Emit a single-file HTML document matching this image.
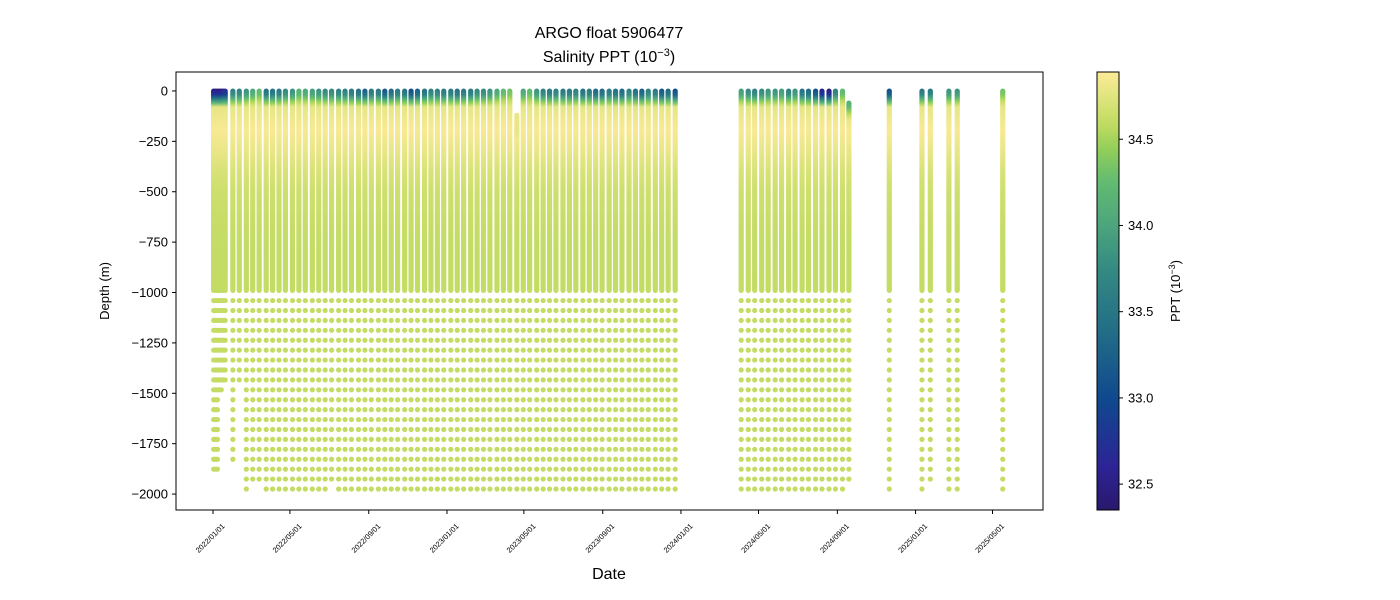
<!DOCTYPE html>
<html><head><meta charset="utf-8"><style>
body{margin:0;background:#fff}
svg{display:block;font-family:"Liberation Sans","DejaVu Sans",sans-serif}
</style></head><body>
<svg id="chart" width="1400" height="600" viewBox="0 0 1400 600" xmlns="http://www.w3.org/2000/svg">
<defs id="defs"></defs>
<rect x="0" y="0" width="1400" height="600" fill="#fff"/>
<text x="609" y="38" font-size="16" text-anchor="middle">ARGO float 5906477</text>
<text x="609" y="62" font-size="16" text-anchor="middle">Salinity PPT (10<tspan dy="-6" font-size="11">−3</tspan><tspan dy="6">)</tspan></text>
<g id="marks"></g>
<rect x="176" y="72" width="867" height="438" fill="none" stroke="#000" stroke-width="1"/>
<g id="yaxis"></g>
<g id="xaxis"></g>
<text transform="translate(109,291) rotate(-90)" font-size="13" text-anchor="middle">Depth (m)</text>
<text x="609" y="579" font-size="16" text-anchor="middle">Date</text>
<g id="cbar"></g>
<text transform="translate(1180,291) rotate(-90)" font-size="13" text-anchor="middle">PPT (10<tspan dy="-5" font-size="9">−3</tspan><tspan dy="5">)</tspan></text>
</svg>
<script>
// ---- data ----
const profileDays = [1,4,7,10,13,16,19,
31,41,52,62,72,83,93,103,113,124,134,144,155,165,175,185,196,206,216,227,237,247,258,268,278,288,299,309,319,330,340,350,360,371,381,391,402,412,422,432,443,453,463,474,484,494,505,515,525,535,546,556,566,577,587,597,607,618,628,638,649,659,669,679,690,700,710,721,
824,835,845,856,866,877,887,898,908,919,929,940,950,961,971,982,992,
1055,1106,1119,1148,1161,1232];
const surfaceSal = [32.4,32.4,32.4,32.4,32.4,32.5,32.6,
33.6,33.6,33.8,34.0,34.2,33.4,33.4,33.5,33.7,33.8,34.1,34.0,33.9,33.8,33.7,33.7,33.6,33.6,33.5,33.4,33.2,33.5,33.5,33.1,33.3,33.5,33.4,33.0,33.2,33.4,33.6,33.6,33.5,33.5,33.4,33.5,33.5,33.7,33.7,33.8,34.0,34.2,34.3,34.8,34.0,34.2,33.8,33.6,33.5,33.6,33.5,33.5,33.6,33.4,33.5,33.3,33.3,33.5,33.4,33.3,33.6,33.4,33.2,33.6,33.5,33.1,33.3,33.0,
33.9,33.7,33.6,33.7,33.8,33.8,33.9,33.6,33.8,33.4,33.3,33.0,32.5,32.4,33.6,34.2,34.1,
33.0,33.5,33.5,33.8,33.8,34.3];
const shallowTopDays = [474,992];
const shallowTopDepths = [120,60];
const maxDepth = [1880,1880,1880,1530,1530,1480,1480,
1830,1480,1975,1925,1925,1975,1975,1975,1975,1975,1975,1975,1975,1975,1975,1925,1975,1975,1975,1975,1975,1975,1975,1975,1975,1975,1975,1975,1975,1975,1975,1975,1975,1975,1975,1975,1975,1975,1975,1975,1975,1975,1975,1975,1975,1975,1975,1975,1975,1975,1975,1975,1975,1975,1975,1975,1975,1975,1975,1975,1975,1975,1975,1975,1975,1975,1975,1975,
1975,1975,1975,1975,1975,1975,1975,1975,1975,1975,1975,1975,1975,1975,1975,1975,1950,
1975,1975,1925,1975,1975,1975];
const yTicks = [0,-250,-500,-750,-1000,-1250,-1500,-1750,-2000];
const xTickDays = [0,120,243,365,485,608,730,851,974,1096,1216];
const xTickLabels = ["2022/01/01","2022/05/01","2022/09/01","2023/01/01","2023/05/01","2023/09/01","2024/01/01","2024/05/01","2024/09/01","2025/01/01","2025/05/01"];
const cbTicks = [32.5,33.0,33.5,34.0,34.5];

// ---- scales ----
const X0=176,X1=1043,Y0=72,Y1=510;
const dayMin=-57.7, dayMax=1294.8, depTop=-94, depBot=2079;
const xs = d => X0+(d-dayMin)/(dayMax-dayMin)*(X1-X0);
const ys = dep => Y0+(dep-depTop)/(depBot-depTop)*(Y1-Y0);
const sMin=32.35, sMax=34.89;
const cStops=[[0,[42,24,108]],[0.1,[44,36,150]],[0.25,[15,72,142]],[0.4,[33,108,135]],[0.55,[52,138,130]],[0.65,[76,165,125]],[0.75,[98,188,112]],[0.83,[150,208,88]],[0.88,[192,219,97]],[0.94,[222,228,125]],[1,[252,234,152]]];
function cmap(s){
  let t=Math.max(0,Math.min(1,(s-sMin)/(sMax-sMin)));
  for(let i=1;i<cStops.length;i++){
    if(t<=cStops[i][0]){const a=cStops[i-1],b=cStops[i];const f=(t-a[0])/(b[0]-a[0]);
      const c=a[1].map((v,k)=>Math.round(v+(b[1][k]-v)*f));return `rgb(${c[0]},${c[1]},${c[2]})`;}
  }
  return 'rgb(252,234,152)';
}
function salAt(dep,sss,top){
  const pts=[[top,sss],[top+30,sss+0.15*(34.8-sss)],[top+55,sss+0.55*(34.8-sss)],[top+90,34.78],[200,34.87],[300,34.8],[450,34.66],[700,34.61],[1000,34.6]];
  if(dep<=pts[0][0])return sss;
  for(let i=1;i<pts.length;i++){if(dep<=pts[i][0]){const a=pts[i-1],b=pts[i];const f=(dep-a[0])/Math.max(1,(b[0]-a[0]));return a[1]+(b[1]-a[1])*f;}}
  return 34.6;
}
const NS='http://www.w3.org/2000/svg';
const defs=document.getElementById('defs'), marks=document.getElementById('marks');
function mk(tag,attrs,parent){const e=document.createElementNS(NS,tag);for(const k in attrs)e.setAttribute(k,attrs[k]);parent.appendChild(e);return e;}

profileDays.forEach((d,i)=>{
  const si=shallowTopDays.indexOf(d);
  const cx=xs(d), top=si>=0?shallowTopDepths[si]:0, sss=surfaceSal[i];
  const g=mk('linearGradient',{id:'g'+i,x1:0,y1:0,x2:0,y2:1,gradientUnits:'objectBoundingBox'},defs);
  const depths=[top,top+15,top+30,top+45,top+55,top+70,top+90,120,160,200,250,300,400,500,700,990].filter((v,k,a)=>v>=top&&v<=990&&(k===0||v>a[k-1]));
  depths.forEach(dp=>{mk('stop',{offset:((dp-top)/(990-top)).toFixed(4),'stop-color':cmap(salAt(dp,sss,top))},g);});
  const col=mk('rect',{x:cx-2.6,y:ys(top)-2.5,width:5.2,height:ys(990)-ys(top)+5,rx:2.6,fill:`url(#g${i})`},marks);
  
  
  for(let dp=1040;dp<=maxDepth[i]+1;dp+=49.2){
    const c=mk('circle',{cx:cx,cy:ys(dp),r:2.6,fill:'rgb(197,220,100)'},marks);
    
    
  }
});

const ya=document.getElementById('yaxis');
yTicks.forEach(v=>{
  const y=ys(-v);
  const t=mk('line',{x1:X0-4,x2:X0,y1:y,y2:y,stroke:'#000'},ya);
  
  
  const l=mk('text',{x:X0-8,y:y+4.5,'font-size':13,'text-anchor':'end'},ya);
  l.textContent=String(v).replace('-','−');
  
  
});
const xa=document.getElementById('xaxis');
xTickDays.forEach((d,i)=>{
  const x=xs(d);
  const t=mk('line',{x1:x,x2:x,y1:Y1,y2:Y1+4,stroke:'#000'},xa);
  
  
  const l=mk('text',{x:0,y:0,'font-size':7.5,'text-anchor':'middle',transform:`translate(${x-1},${Y1+30}) rotate(-45)`},xa);
  l.textContent=xTickLabels[i];
  
  
});

// colorbar
const cb=document.getElementById('cbar');
const CBX=1097,CBW=22,CBT=72,CBB=510;
const cg=mk('linearGradient',{id:'cbg',x1:0,y1:1,x2:0,y2:0},defs);
for(let k=0;k<=40;k++){mk('stop',{offset:k/40,'stop-color':cmap(sMin+(sMax-sMin)*k/40)},cg);}
mk('rect',{x:CBX,y:CBT,width:CBW,height:CBB-CBT,fill:'url(#cbg)',stroke:'#000','stroke-width':1},cb);
const cbY=s=>CBB-(s-sMin)/(sMax-sMin)*(CBB-CBT);
cbTicks.forEach(v=>{
  const y=cbY(v);
  const t=mk('line',{x1:CBX+CBW,x2:CBX+CBW+4,y1:y,y2:y,stroke:'#000'},cb);
  
  
  const l=mk('text',{x:CBX+CBW+9,y:y+4.5,'font-size':13},cb);
  l.textContent=v.toFixed(1);
  
  
});
</script>
</body></html>
